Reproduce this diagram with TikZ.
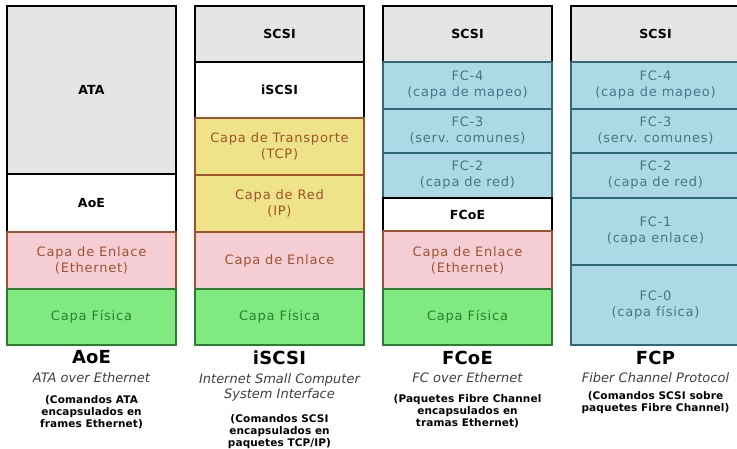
\documentclass[tikz,border=0pt]{standalone}
\usepackage{fontspec}
\usepackage{xcolor}
\usetikzlibrary{positioning}

\setmainfont{DejaVu Sans}[LetterSpace=6]
\newfontfamily\negfont{DejaVu Sans}[LetterSpace=1]
\newfontfamily\subfont{DejaVu Sans}

\definecolor{grisfondo}{HTML}{E5E5E5}
\definecolor{rosa}{HTML}{F4CED4}
\definecolor{amarillo}{HTML}{EEE388}
\definecolor{verde}{HTML}{80EA80}
\definecolor{azul}{HTML}{ADD8E6}
\definecolor{marron}{HTML}{A0522D}
\definecolor{verdeosc}{HTML}{2E7D32}
\definecolor{azulosc}{HTML}{31697A}
\definecolor{textoazul}{HTML}{4A7585}

\tikzset{
  capa/.style={draw, line width=1.6pt, minimum width=169pt, inner sep=0pt,
    outer sep=0pt, align=center, font=\fontsize{13}{16}\selectfont},
  gris/.style={capa, fill=grisfondo, draw=black, font=\negfont\fontsize{12.5}{16}\selectfont\bfseries},
  blanca/.style={capa, fill=white, draw=black, font=\negfont\fontsize{12.5}{16}\selectfont\bfseries},
  enlace/.style={capa, fill=rosa, draw=marron, text=marron},
  red/.style={capa, fill=amarillo, draw=marron, text=marron},
  fisica/.style={capa, fill=verde, draw=verdeosc, text=verdeosc},
  fc/.style={capa, fill=azul, draw=azulosc, text=textoazul},
  titulo/.style={font=\negfont\fontsize{18}{20}\selectfont\bfseries},
  subtitulo/.style={align=center, inner sep=0pt, text=black!75, font=\subfont\fontsize{13}{15.5}\selectfont\itshape},
  nota/.style={align=center, inner sep=0pt, font=\negfont\fontsize{10.5}{12}\selectfont\bfseries}
}

\begin{document}
\begin{tikzpicture}[x=1pt, y=-1pt]
  \useasboundingbox (0,0) rectangle (737,448);

  % Columna AoE
  \node[gris, minimum height=168pt, anchor=north] (ata) at (91.5,6) {ATA};
  \node[blanca, minimum height=58pt, below=0pt of ata] (aoe) {AoE};
  \node[enlace, minimum height=57pt, below=0pt of aoe] (enlaceA) {Capa de Enlace\\(Ethernet)};
  \node[fisica, minimum height=56pt, below=0pt of enlaceA] (fisicaA) {Capa Física};

  % Columna iSCSI
  \node[gris, minimum height=56pt, anchor=north] (scsiB) at (279.5,6) {SCSI};
  \node[blanca, minimum height=56pt, below=0pt of scsiB] (iscsi) {iSCSI};
  \node[red, minimum height=57pt, below=0pt of iscsi] (tcp) {Capa de Transporte\\(TCP)};
  \node[red, minimum height=57pt, below=0pt of tcp] (ip) {Capa de Red\\(IP)};
  \node[enlace, minimum height=57pt, below=0pt of ip] (enlaceB) {Capa de Enlace};
  \node[fisica, minimum height=56pt, below=0pt of enlaceB] (fisicaB) {Capa Física};

  % Columna FCoE
  \node[gris, minimum height=56pt, anchor=north] (scsiC) at (467.5,6) {SCSI};
  \node[fc, minimum height=47pt, below=0pt of scsiC] (fc4C) {FC-4\\(capa de mapeo)};
  \node[fc, minimum height=44pt, below=0pt of fc4C] (fc3C) {FC-3\\(serv. comunes)};
  \node[fc, minimum height=45pt, below=0pt of fc3C] (fc2C) {FC-2\\(capa de red)};
  \node[blanca, minimum height=33pt, below=0pt of fc2C] (fcoe) {FCoE};
  \node[enlace, minimum height=58pt, below=0pt of fcoe] (enlaceC) {Capa de Enlace\\(Ethernet)};
  \node[fisica, minimum height=56pt, below=0pt of enlaceC] (fisicaC) {Capa Física};

  % Columna FCP
  \node[gris, minimum height=56pt, anchor=north] (scsiD) at (655.5,6) {SCSI};
  \node[fc, minimum height=47pt, below=0pt of scsiD] (fc4D) {FC-4\\(capa de mapeo)};
  \node[fc, minimum height=44pt, below=0pt of fc4D] (fc3D) {FC-3\\(serv. comunes)};
  \node[fc, minimum height=45pt, below=0pt of fc3D] (fc2D) {FC-2\\(capa de red)};
  \node[fc, minimum height=67pt, below=0pt of fc2D] (fc1D) {FC-1\\(capa enlace)};
  \node[fc, minimum height=80pt, below=0pt of fc1D] (fc0D) {FC-0\\(capa física)};

  % Rotulos
  \node[titulo] (tA) at (91.5,357.5) {AoE};
  \node[subtitulo] (sA) at (91.5,378) {ATA over Ethernet};
  \node[nota, anchor=north] (nA) at (91.5,395.5) {(Comandos ATA\\encapsulados en\\frames Ethernet)};

  \node[titulo] (tB) at (279.5,357.5) {iSCSI};
  \node[subtitulo, anchor=north] (sB) at (279.5,373) {Internet Small Computer\\System Interface};
  \node[nota, anchor=north] (nB) at (279.5,414) {(Comandos SCSI\\encapsulados en\\paquetes TCP/IP)};

  \node[titulo] (tC) at (467.5,357.5) {FCoE};
  \node[subtitulo] (sC) at (467.5,378) {FC over Ethernet};
  \node[nota, anchor=north] (nC) at (467.5,394.5) {(Paquetes Fibre Channel\\encapsulados en\\tramas Ethernet)};

  \node[titulo] (tD) at (655.5,357.5) {FCP};
  \node[subtitulo] (sD) at (655.5,378) {Fiber Channel Protocol};
  \node[nota, anchor=north] (nD) at (655.5,391) {(Comandos SCSI sobre\\paquetes Fibre Channel)};
\end{tikzpicture}
\end{document}
